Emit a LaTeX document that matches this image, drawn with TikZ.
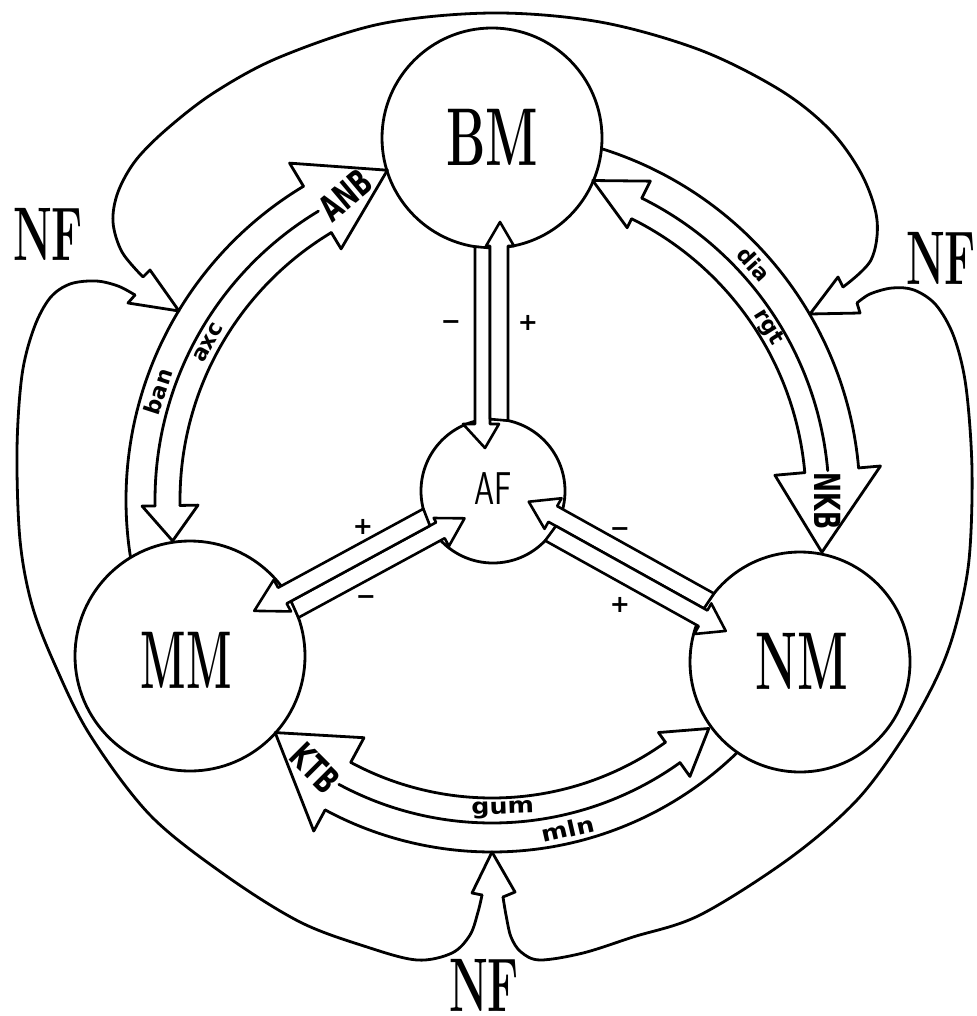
\documentclass[tikz,border=0pt]{standalone}
\usepackage{fontspec}
\usepackage{graphicx}
\newfontfamily\tagfont{DejaVu Sans}
\tikzset{
  ink/.style={line width=2.8pt, line join=round, line cap=round},
  hub/.style={circle, draw, fill=white, inner sep=0pt, line width=2.8pt},
  fat/.style={draw, fill=white, line width=2.6pt, line join=round},
  bigtxt/.style={font=\bfseries\fontsize{82}{82}\selectfont, inner sep=0pt},
  nftxt/.style={font=\bfseries\fontsize{76}{76}\selectfont, inner sep=0pt, xscale=0.58},
  aftxt/.style={font=\sffamily\fontsize{46}{46}\selectfont, inner sep=0pt, xscale=0.7},
  bandtag/.style={font=\tagfont\bfseries\fontsize{22}{22}\selectfont, inner sep=0pt},
  headtag/.style={font=\tagfont\bfseries\fontsize{36}{36}\selectfont, inner sep=0pt},
  sgn/.style={font=\tagfont\bfseries\fontsize{24}{24}\selectfont, inner sep=0pt},
}
\begin{document}
\begin{tikzpicture}[x=1pt, y=-1pt]
\useasboundingbox (0,0) rectangle (976,1016);
\coordinate (O) at (492,500);

% ring bands: outer, middle and inner line of each double band
\begin{scope}[shift={(O)}, ink]
  % BM -- MM
  \draw plot[domain=239:170, samples=70, variable=\t] ({\t}:366);
  \draw plot[domain=239:179, samples=70, variable=\t] ({\t}:337);
  \draw plot[domain=239:179, samples=70, variable=\t] ({\t}:312);
  % BM -- NM
  \draw plot[domain=286:355, samples=70, variable=\t] ({\t}:368);
  \draw plot[domain=296.4:355, samples=70, variable=\t] ({\t}:337);
  \draw plot[domain=296.4:355, samples=70, variable=\t] ({\t}:314);
  % MM -- NM
  \draw plot[domain=118.3:45, samples=70, variable=\t] ({\t}:352);
  \draw plot[domain=118.3:54.4, samples=70, variable=\t] ({\t}:323);
  \draw plot[domain=118.3:54.4, samples=70, variable=\t] ({\t}:298);
\end{scope}

% outer NF loops
\draw[ink] plot[smooth, tension=0.55] coordinates {(143,277) (122,252) (113,222) (118,192) (136,160) (168,128) (215,92) (280,57) (380,24) (492,13) (600,22) (700,50) (780,90) (830,130) (862,175) (877,220) (871,260) (843,287)};
\draw[ink] plot[smooth, tension=0.55] coordinates {(135,295) (118,286) (96,281) (70,284) (50,298) (34,328) (22,375) (17,450) (20,540) (32,605) (55,665) (90,735) (150,815) (225,875) (300,922) (367,947) (417,960) (452,953) (470,935) (478,912) (482,895)};
\draw[ink] plot[smooth, tension=0.55] coordinates {(857,303) (870,294) (892,288) (914,290) (936,305) (954,337) (966,387) (972,470) (969,560) (956,625) (938,675) (905,735) (857,800) (790,858) (700,915) (633,937) (583,953) (540,960) (521,952) (511,937) (506,915) (503,897)};
% NF arrow heads
\draw[ink] (143,277) -- (150,270) -- (179,311) -- (128,303) -- (135,295);
\draw[ink] (843,287) -- (838,277) -- (810,314) -- (860,313) -- (857,303);
\draw[ink] (482,895) -- (472,893) -- (492,852) -- (515,892) -- (503,897);

% compartments
\node[hub, minimum size=220pt] (BM) at (492,138) {};
\node[hub, minimum size=230pt] (MM) at (190,656) {};
\node[hub, minimum size=220pt] (NM) at (800,662) {};
\node[hub, minimum size=144pt] (AF) at (493,491) {};

% heads of the ring bands
\begin{scope}[shift={(O)}, ink]
  \draw (239:366) -- (239:393) -- (252.4:346) -- (239:293) -- (239:312);
  \draw (179:337) -- (179:350) -- (172.7:322) -- (179:294) -- (179:312);
  \draw (296.4:337) -- (296.4:356) -- (287.5:335) -- (296.4:304) -- (296.4:314);
  \draw (355:314) -- (355:284) -- (369:334) -- (355:390) -- (355:368);
  \draw (118.3:298) -- (118.3:270) -- (133:318) -- (118.3:376) -- (118.3:352);
  \draw (54.4:298) -- (54.4:286) -- (46.5:315) -- (54.4:340) -- (54.4:323);
\end{scope}

% double arrows between AF and the three compartments
\begin{scope}[x=1pt, y=1pt, shift={(BM.center)}, rotate=-90]
  \draw[fat] (108.7,-17) -- (286,-17) -- (286,-29) -- (310,-7) -- (286,7) -- (286,-2) -- (110,-2) -- cycle;
  \draw[fat] (281.1,-2) -- (108,-2) -- (108,-6) -- (84,8) -- (108,22) -- (108,16) -- (282.6,16) -- cycle;
\end{scope}
\begin{scope}[x=1pt, y=1pt, shift={(MM.center)}, rotate=28.5]
  \draw[fat] (115,0) -- (280,0) -- (280,5) -- (307,-10) -- (280,-27) -- (280,-18) -- (113.6,-18) -- cycle;
  \draw[fat] (275.3,18) -- (110,18) -- (110,27) -- (78,9) -- (110,-9) -- (110,0) -- (273,0) -- cycle;
\end{scope}
\begin{scope}[x=1pt, y=1pt, shift={(NM.center)}, rotate=150.88]
  \draw[fat] (110,0) -- (288,0) -- (288,8) -- (315,-8) -- (288,-27) -- (288,-18) -- (108.5,-18) -- cycle;
  \draw[fat] (279.4,0) -- (106,0) -- (106,-8) -- (80,9) -- (106,27) -- (106,18) -- (281.7,18) -- cycle;
\end{scope}

% names
\node[bigtxt, xscale=0.6] (BMt) at (492,137) {BM};
\node[bigtxt, xscale=0.52] (MMt) at (186,660) {MM};
\node[bigtxt, xscale=0.58] (NMt) at (802,661) {NM};
\node[aftxt] (AFt) at (493,489) {AF};
\node[nftxt] (NF1) at (48,234) {NF};
\node[nftxt] (NF2) at (941,258) {NF};
\node[nftxt] (NF3) at (484,985) {NF};

% band and head labels
\begin{scope}[shift={(O)}]
  \node[bandtag, rotate=72] (tban) at (198:351) {ban};
  \node[bandtag, rotate=61] (taxc) at (209:324.5) {axc};
  \node[bandtag, rotate=-48] (tdia) at (318:352.5) {dia};
  \node[bandtag, rotate=-58] (trgt) at (328:325.5) {rgt};
  \node[bandtag, rotate=2, xscale=1.15] (tgum) at (88:310) {gum};
  \node[bandtag, rotate=13, xscale=1.15] (tmln) at (77:337.5) {mln};
  \node[headtag, rotate=40, xscale=0.66] (tANB) at (244.3:338.6) {ANB};
  \node[headtag, rotate=-90, xscale=0.66] (tNKB) at (0.2:336) {NKB};
  \node[headtag, rotate=-45, xscale=0.66] (tKTB) at (123.4:321) {KTB};
\end{scope}

% signs
\node[sgn] (s1) at (451,325) {−};
\node[sgn] (s2) at (528,323) {+};
\node[sgn] (s3) at (363,527) {+};
\node[sgn] (s4) at (366,600) {−};
\node[sgn] (s5) at (620,532) {−};
\node[sgn] (s6) at (620,605) {+};
\end{tikzpicture}
\end{document}
